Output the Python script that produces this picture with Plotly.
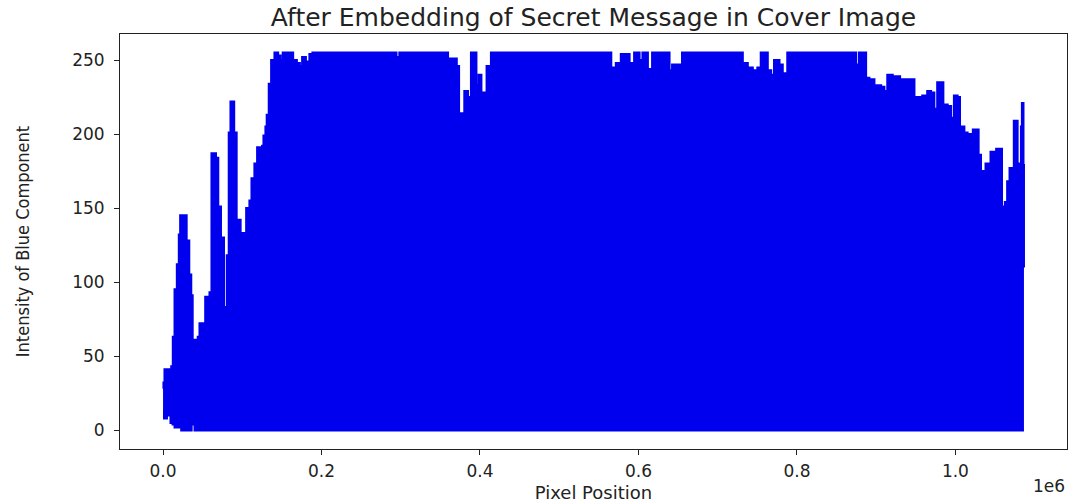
import plotly.graph_objects as go

# Upper envelope of the dense blue trace (pixel position, blue intensity)
top_x = [0, 800, 2100, 8400, 10600, 12600, 14800, 17700, 20200, 21900, 27400, 29500,
         32800, 35300, 37100, 40000, 44100, 46300, 51300, 53500, 58900, 61400, 66500,
         69400, 72800, 76600, 80700, 83200, 85400, 89500, 92600, 97600, 100100, 105200,
         109300, 111900, 115600, 119000, 125300, 127000, 129500, 131100, 133700, 136700,
         140900, 145000, 148000, 151300, 163900, 168600, 172400, 175800, 180000, 185000,
         188800, 218700, 220300, 243900, 245500, 269900, 272000, 294300, 298500, 332200,
         333800, 359400, 361500, 370400, 373300, 376300, 380500, 384600, 388900, 395200,
         398500, 401500, 405700, 408600, 414100, 443500, 446000, 452000, 453700, 470900,
         472500, 487600, 490200, 496100, 497700, 565400, 571700, 578000, 588500, 594800,
         601100, 602400, 605300, 611600, 617500, 638900, 642700, 655300, 731400, 737700,
         744000, 750300, 754600, 762900, 767200, 771400, 777700, 781800, 785200, 788100,
         792400, 794100, 874400, 878500, 887000, 891200, 897500, 906000, 910100, 914300,
         920600, 929900, 932800, 948000, 958400, 964700, 969000, 973100, 977300, 984500,
         990000, 994300, 998400, 1002500, 1005500, 1011000, 1015100, 1019400, 1022300,
         1029000, 1032000, 1034900, 1038300, 1041600, 1044600, 1048800, 1051700, 1058500,
         1062700, 1065600, 1068600, 1074000, 1078200, 1081200, 1083000, 1084200, 1085600,
         1086200, 1086500]
top_y = [28, 32, 41, 41, 43, 63, 95, 112, 132, 145, 145, 128,
         105, 91, 55, 61, 63, 72, 72, 90, 93, 187, 184,
         151, 130, 83, 118, 201, 222, 201, 142, 125, 133, 150,
         155, 170, 180, 191, 192, 199, 205, 213, 234, 250,
         255, 253, 250, 255, 250, 248, 246, 252, 249, 254,
         255, 252, 255, 253, 255, 247, 255, 252, 255, 254,
         255, 246, 251, 246, 211, 214, 229, 225, 255, 233,
         240, 228, 227, 246, 255, 248, 255, 250, 255, 252,
         255, 245, 255, 247, 255, 245, 248, 254, 248, 255,
         235, 250, 255, 244, 255, 243, 247, 255, 248, 245,
         243, 245, 255, 243, 240, 250, 247, 241, 238, 255,
         240, 255, 247, 255, 238, 237, 233, 232, 229, 240,
         239, 230, 237, 225, 226, 229, 228, 217, 235, 220,
         219, 211, 226, 225, 205, 201, 200, 184, 203,
         186, 168, 175, 180, 170, 188, 187, 190, 151,
         154, 168, 177, 209, 169, 180, 205, 221, 179,
         110, 110]

# Lower envelope (only the first pixels stay above zero)
low_x = [0, 1500, 4600, 9700, 12300, 14800, 23200, 35800, 40000, 1086500]
low_y = [13, 8, 10, 5, 4, 2, 0, 4, 0, 0]

x_tick_vals = [0, 200000, 400000, 600000, 800000, 1000000]
x_tick_text = ["0.0", "0.2", "0.4", "0.6", "0.8", "1.0"]
y_tick_vals = [0, 50, 100, 150, 200, 250]

BLUE = "#0000ee"
N = 1086500

fig = go.Figure()
fig.add_trace(go.Scatter(x=low_x, y=low_y, mode="lines", line=dict(color=BLUE, width=2.5, shape="hv"),
                         showlegend=False, hoverinfo="skip"))
fig.add_trace(go.Scatter(x=top_x, y=top_y, mode="lines", line=dict(color=BLUE, width=2.5, shape="hv"),
                         fill="tonexty", fillcolor=BLUE, showlegend=False))

axis_common = dict(showgrid=False, zeroline=False, showline=True, linecolor="#222", linewidth=1,
                   mirror=True, ticks="outside", ticklen=5, tickwidth=1, tickcolor="#222",
                   tickfont=dict(family="DejaVu Sans", size=17, color="#222"))

fig.update_layout(
    width=1070, height=503,
    margin=dict(l=120, r=2, t=34, b=49),
    paper_bgcolor="white", plot_bgcolor="white",
    title=dict(text="After Embedding of Secret Message in Cover Image",
               font=dict(family="DejaVu Sans", size=25, color="#222"),
               x=0.5, xref="paper", xanchor="center",
               y=1 - 17 / 503, yref="container", yanchor="middle"),
    xaxis=dict(range=[-0.05 * N, 1.05 * N], tickvals=x_tick_vals, ticktext=x_tick_text,
               ticklabelstandoff=2,
               title=dict(text="Pixel Position", standoff=7,
                          font=dict(family="DejaVu Sans", size=18, color="#222")),
               **axis_common),
    yaxis=dict(range=[-12.75, 267.75], tickvals=y_tick_vals, ticklabelstandoff=6,
               title=dict(text="Intensity of Blue Component", standoff=37,
                          font=dict(family="DejaVu Sans Condensed, Liberation Sans Narrow, DejaVu Sans",
                                    size=18, color="#222")),
               **axis_common),
    annotations=[dict(text="1e6", xref="paper", yref="paper", x=1.0, y=(454 - 491) / 420,
                      xanchor="right", yanchor="middle", showarrow=False,
                      font=dict(family="DejaVu Sans", size=17, color="#222"))],
)

fig.write_html("out.html", config={"displayModeBar": False},
               post_script="document.body.style.margin='0';")
